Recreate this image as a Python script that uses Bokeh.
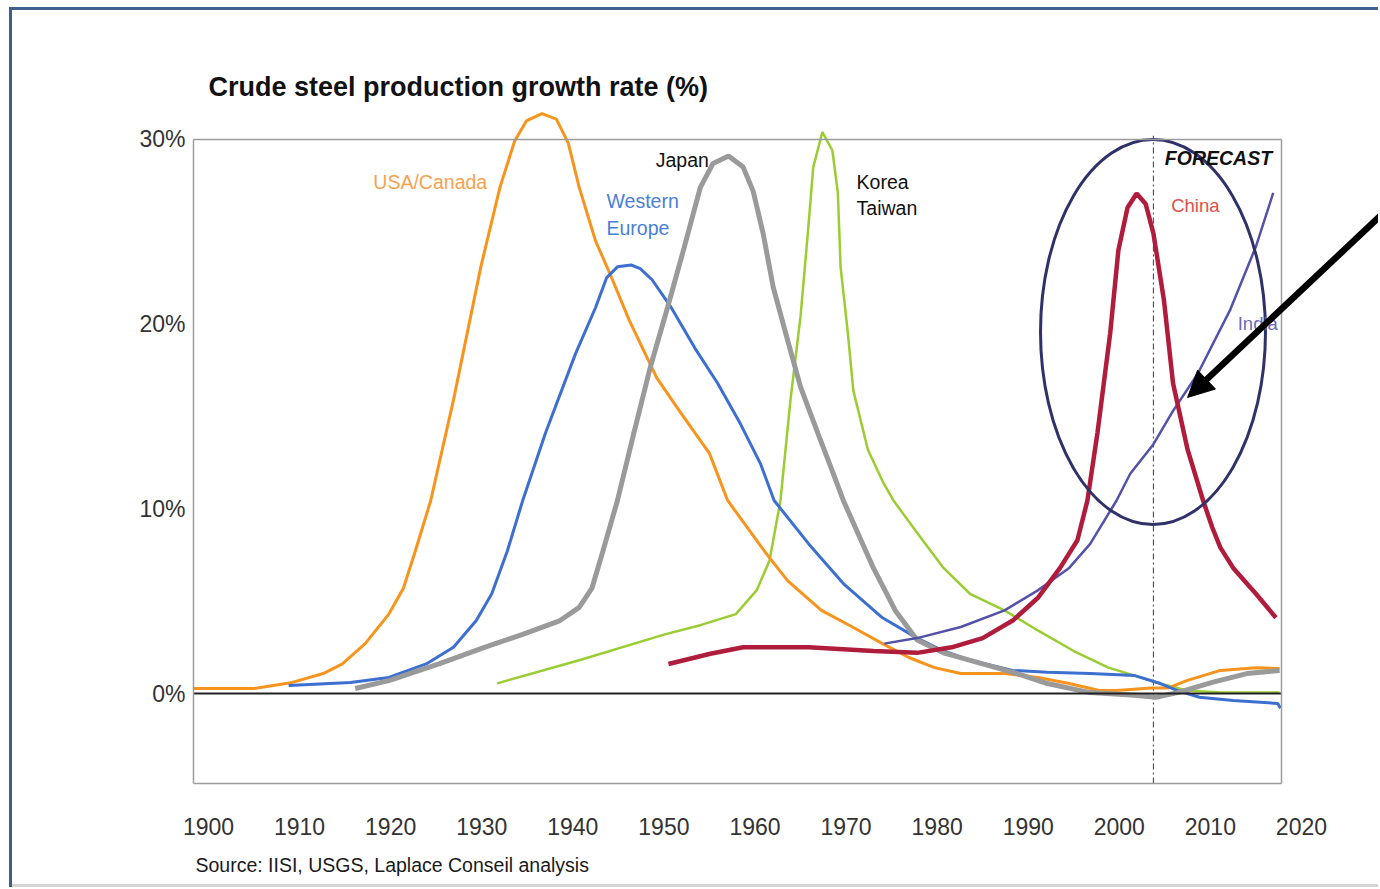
from bokeh.plotting import figure
from bokeh.models import Range1d, FixedTicker, LinearAxis, Label, Arrow, NormalHead
from bokeh.embed import file_html
from bokeh.resources import INLINE

# ---------------- data ----------------
x_ticks = [1900, 1910, 1920, 1930, 1940, 1950, 1960, 1970, 1980, 1990, 2000, 2010, 2020]
y_ticks = [0, 10, 20, 30]
y_tick_labels = ["0%", "10%", "20%", "30%"]

usa_years = [1898.4, 1905.0, 1909.2, 1912.6, 1914.7, 1917.2, 1919.8, 1921.4, 1922.7, 1924.4,
             1926.9, 1929.9, 1932.0, 1933.6, 1934.9, 1936.6, 1938.2, 1939.5, 1940.7, 1942.5,
             1944.1, 1946.2, 1949.2, 1951.7, 1955.0, 1957.0, 1961.2, 1963.6, 1967.3, 1970.7,
             1974.0, 1976.9, 1979.7, 1982.6, 1987.4, 1991.1, 1994.5, 1997.8, 1999.7, 2003.5,
             2005.4, 2007.4, 2011.1, 2015.0, 2017.6]
usa_vals = [0.27, 0.27, 0.6, 1.08, 1.6, 2.7, 4.3, 5.7, 7.7, 10.45,
            15.9, 23.1, 27.4, 29.9, 31.0, 31.4, 31.1, 29.8, 27.4, 24.5,
            22.7, 20.2, 17.1, 15.3, 13.0, 10.45, 7.6, 6.1, 4.5, 3.6,
            2.7, 1.95, 1.4, 1.08, 1.08, 0.87, 0.54, 0.16, 0.16, 0.3,
            0.3, 0.7, 1.25, 1.4, 1.35]

weu_years = [1908.8, 1915.6, 1919.8, 1923.9, 1926.9, 1929.4, 1931.1, 1932.8, 1934.5, 1937.0,
             1940.3, 1942.5, 1943.7, 1944.9, 1946.4, 1947.4, 1948.7, 1950.8, 1953.4, 1955.9,
             1958.4, 1960.6, 1962.1, 1965.9, 1969.7, 1974.0, 1977.8, 1980.7, 1983.6, 1988.3,
             1992.1, 1996.8, 2001.7, 2004.5, 2006.4, 2008.8, 2012.5, 2017.4, 2017.7]
weu_vals = [0.43, 0.6, 0.87, 1.6, 2.5, 3.95, 5.4, 7.7, 10.45, 14.1,
            18.4, 20.9, 22.5, 23.1, 23.2, 23.0, 22.4, 20.9, 18.7, 16.8,
            14.6, 12.45, 10.45, 8.1, 5.95, 4.1, 3.0, 2.3, 1.8, 1.25,
            1.15, 1.08, 0.97, 0.54, 0.16, -0.2, -0.38, -0.54, -0.8]

jpn_years = [1916.1, 1919.8, 1925.3, 1930.3, 1934.5, 1938.6, 1940.7, 1942.1, 1943.3, 1944.9,
             1946.7, 1948.5, 1950.4, 1952.2, 1954.0, 1955.4, 1957.1, 1958.7, 1959.8, 1960.9,
             1962.0, 1963.6, 1965.0, 1966.9, 1968.6, 1969.7, 1973.0, 1975.4, 1977.8, 1980.7,
             1985.0, 1988.8, 1992.1, 1996.8, 2001.7, 2004.0, 2006.4, 2010.2, 2014.0, 2017.6]
jpn_vals = [0.27, 0.7, 1.6, 2.5, 3.2, 3.95, 4.66, 5.7, 7.7, 10.45,
            14.1, 17.65, 20.9, 24.1, 27.4, 28.7, 29.1, 28.5, 27.2, 24.9,
            22.0, 19.1, 16.6, 14.1, 11.9, 10.45, 6.8, 4.5, 2.9, 2.2,
            1.6, 1.08, 0.54, 0.05, -0.1, -0.2, 0.05, 0.6, 1.08, 1.25]

kor_years = [1931.7, 1940.7, 1950.1, 1954.0, 1957.9, 1960.2, 1961.6, 1962.8, 1963.9, 1965.0,
             1965.8, 1966.4, 1967.4, 1968.5, 1969.1, 1969.4, 1970.2, 1970.8, 1972.4, 1974.1,
             1975.2, 1977.8, 1980.7, 1983.6, 1987.4, 1991.1, 1995.0, 1998.8, 2001.7, 2004.5,
             2007.4, 2011.1, 2017.6]
kor_vals = [0.55, 1.8, 3.2, 3.7, 4.3, 5.6, 7.2, 10.45, 15.9, 20.4,
            24.9, 28.5, 30.4, 29.4, 27.1, 23.1, 19.5, 16.4, 13.2, 11.4,
            10.45, 8.7, 6.8, 5.4, 4.5, 3.4, 2.3, 1.4, 0.97, 0.54,
            0.16, 0.05, 0.05]

chn_years = [1950.5, 1955.1, 1958.7, 1965.9, 1973.0, 1977.8, 1981.6, 1985.0, 1988.3, 1991.1,
             1993.5, 1995.4, 1996.5, 1997.6, 1999.0, 1999.9, 2000.9, 2001.9, 2002.9, 2003.75,
             2004.9, 2005.9, 2007.5, 2009.2, 2010.2, 2011.1, 2012.5, 2015.0, 2017.2]
chn_vals = [1.6, 2.15, 2.5, 2.5, 2.3, 2.2, 2.5, 3.0, 3.95, 5.2,
            6.8, 8.3, 10.45, 14.1, 19.5, 24.0, 26.3, 27.07, 26.5, 24.9,
            21.3, 16.8, 13.2, 10.45, 9.0, 7.9, 6.8, 5.4, 4.1]

ind_years = [1974.2, 1977.8, 1982.6, 1987.4, 1991.1, 1994.5, 1996.8, 1999.7, 2001.2, 2003.75,
             2005.9, 2008.6, 2012.2, 2015.0, 2016.9]
ind_vals = [2.7, 3.0, 3.6, 4.5, 5.6, 6.8, 8.1, 10.45, 11.9, 13.5,
            15.3, 17.3, 20.8, 24.2, 27.1]

# ---------------- layout constants ----------------
SANS = "Liberation Sans"
X_MIN, X_MAX = 1877.163, 2028.459          # full canvas width
Y_MIN, Y_MAX = -10.503, 37.520              # full canvas height
X_BOX_LEFT, X_BOX_RIGHT = 1898.353, 2017.808
Y_BOX_BOTTOM, Y_BOX_TOP = -4.873, 30.0
FORECAST_YEAR = 2003.75
FRAME_GRAY = "#9c9c9c"
TICK_COLOR = "#333333"

p = figure(width=1378, height=887, title=None,
           x_range=Range1d(X_MIN, X_MAX), y_range=Range1d(Y_MIN, Y_MAX),
           output_backend="svg", toolbar_location=None,
           min_border=0, min_border_left=0, min_border_right=0,
           min_border_top=0, min_border_bottom=0)
p.outline_line_color = None
p.grid.visible = False
p.background_fill_color = None
p.border_fill_color = None
p.styles = {"box-shadow": "inset 9px 7px 0 0 #ffffff, inset 12px 10px 0 0 #3f5f8f, inset 0 -3px 0 0 #d4d4d4"}

# bottom tick labels
xa = p.xaxis[0]
xa.fixed_location = Y_BOX_BOTTOM
xa.ticker = FixedTicker(ticks=x_ticks)
xa.axis_line_color = None
xa.major_tick_line_color = None
xa.minor_tick_line_color = None
xa.major_label_text_font = SANS
xa.major_label_text_font_size = "23px"
xa.major_label_text_color = TICK_COLOR
xa.major_label_standoff = 28

# left axis (also the left side of the box)
ya = p.yaxis[0]
ya.fixed_location = X_BOX_LEFT
ya.ticker = FixedTicker(ticks=y_ticks)
ya.major_label_overrides = dict(zip(y_ticks, y_tick_labels))
ya.bounds = (Y_BOX_BOTTOM, Y_BOX_TOP)
ya.axis_line_color = FRAME_GRAY
ya.axis_line_width = 1.5
ya.major_tick_line_color = None
ya.minor_tick_line_color = None
ya.major_label_text_font = SANS
ya.major_label_text_font_size = "23px"
ya.major_label_text_color = TICK_COLOR
ya.major_label_standoff = 2


def rule_axis(place, loc, bounds, color=FRAME_GRAY, width=1.5):
    ax = LinearAxis(ticker=FixedTicker(ticks=[]), fixed_location=loc, bounds=bounds,
                    axis_line_color=color, axis_line_width=width,
                    major_tick_line_color=None, minor_tick_line_color=None,
                    major_label_text_font_size="0px")
    p.add_layout(ax, place)


rule_axis("right", X_BOX_RIGHT, (Y_BOX_BOTTOM, Y_BOX_TOP))
rule_axis("above", Y_BOX_TOP, (X_BOX_LEFT, X_BOX_RIGHT))
rule_axis("below", Y_BOX_BOTTOM, (X_BOX_LEFT, X_BOX_RIGHT))
rule_axis("below", 0, (X_BOX_LEFT, X_BOX_RIGHT), color="#222222", width=2)

# forecast divider
p.segment(x0=[FORECAST_YEAR], y0=[Y_BOX_BOTTOM], x1=[FORECAST_YEAR], y1=[Y_BOX_TOP + 0.2],
          line_color="#555555", line_width=1.2, line_dash="6 3 2 3")

# series
p.line(kor_years, kor_vals, line_color="#9acd32", line_width=2.5)
p.line(usa_years, usa_vals, line_color="#f7941d", line_width=3)
p.line(weu_years, weu_vals, line_color="#3d6fd0", line_width=3)
p.line(jpn_years, jpn_vals, line_color="#9a9a9a", line_width=5)
p.line(ind_years, ind_vals, line_color="#5252a8", line_width=2.5)
p.line(chn_years, chn_vals, line_color="#b01c3c", line_width=4.5)


def lab(x, y, text, color, size="19.5px", style="normal", align="left"):
    p.add_layout(Label(x=x, y=y, text=text, text_font=SANS, text_font_size=size,
                       text_color=color, text_font_style=style, text_align=align,
                       text_baseline="middle"))


lab(1918.1, 27.67, "USA/Canada", "#f5a24e")
lab(1943.7, 26.64, "Western", "#4a7fd6")
lab(1943.7, 25.18, "Europe", "#4a7fd6")
lab(1949.1, 28.86, "Japan", "#111111")
lab(1971.15, 27.67, "Korea", "#111111")
lab(1971.15, 26.26, "Taiwan", "#111111")
lab(2005.7, 26.42, "China", "#e0504a", size="18.5px")
lab(2013.0, 20.03, "India", "#6a6ab8", size="18.5px")
lab(2005.0, 28.97, "FORECAST", "#111111", size="19.5px", style="bold italic")

# title and source
lab(1900.0, 32.81, "Crude steel production growth rate (%)", "#111111", size="27px", style="bold")
lab(1898.57, -9.29, "Source: IISI, USGS, Laplace Conseil analysis", "#1a1a1a", size="19.5px")

# highlight ellipse and arrow
p.ellipse(x=[2003.7], y=[19.57], width=[24.7], height=[20.84],
          fill_color=None, line_color="#2e3268", line_width=3)
p.add_layout(Arrow(end=NormalHead(size=26, fill_color="black", line_color="black"),
                   x_start=2028.7, y_start=25.88, x_end=2007.5, y_end=16.03,
                   line_width=6.5, line_color="black"))

open("out.html", "w").write(file_html(p, INLINE))
